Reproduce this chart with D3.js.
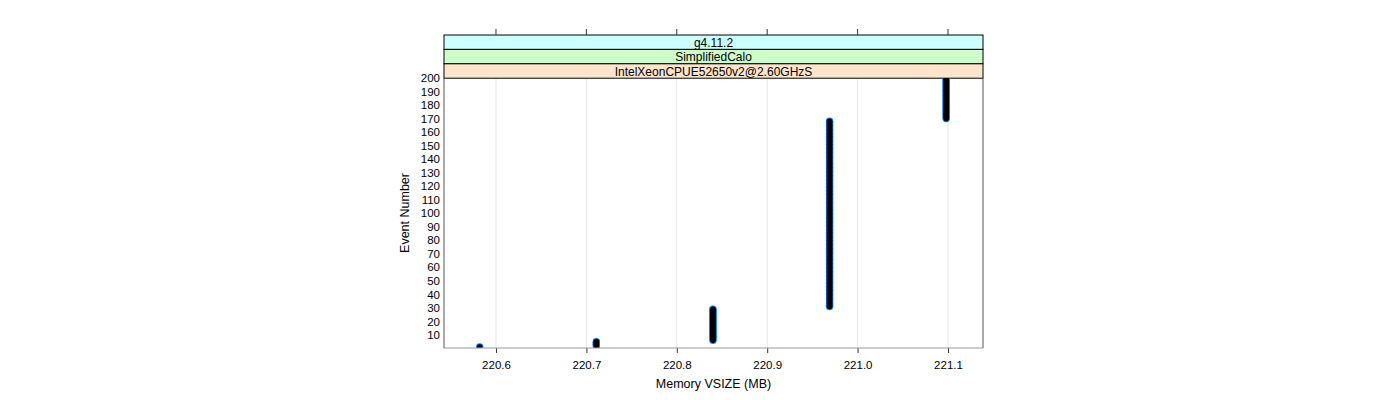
<!DOCTYPE html>
<html>
<head>
<meta charset="utf-8">
<script src="https://cdn.jsdelivr.net/npm/d3@7"></script>
<style>
body { margin: 0; background: #fff; }
text { font-family: "Liberation Sans", Arial, sans-serif; }
</style>
</head>
<body>
<div id="chart"></div>
<script>
// memory plateaus: VSIZE (MB) and the event runs that sit on each
var vsize = [220.582, 220.711, 220.840, 220.969, 221.098];
var runStart = [1, 2, 6, 31, 170];
var runEnd = [1, 5, 29, 168, 200];
var xTicks = [220.6, 220.7, 220.8, 220.9, 221.0, 221.1];
var yTicks = [10, 20, 30, 40, 50, 60, 70, 80, 90, 100, 110, 120, 130, 140, 150, 160, 170, 180, 190, 200];
var strips = ["g4.11.2", "SimplifiedCalo", "IntelXeonCPUE52650v2@2.60GHzS"];
var stripColors = ["#ccffff", "#ccffcc", "#ffe5cc"];

var points = [];
vsize.forEach(function(v, i) {
    for (var e = runStart[i]; e <= runEnd[i]; e++) points.push({x: v, y: e});
});

var width = 1400, height = 400;
var pLeft = 444, pRight = 983, pTop = 78, pBottom = 348;

var svg = d3.select("#chart").append("svg")
    .attr("width", width)
    .attr("height", height);

svg.append("clipPath").attr("id", "panel")
    .append("rect")
    .attr("x", pLeft).attr("y", pTop)
    .attr("width", pRight - pLeft).attr("height", pBottom - pTop);

var x = d3.scaleLinear().domain([220.5425, 221.1387]).range([pLeft, pRight]);
var y = d3.scaleLinear().domain([0.3, 200]).range([pBottom, pTop]);

// grid
svg.selectAll(".grid")
    .data(xTicks)
    .enter().append("line")
    .attr("x1", function(d) { return x(d); })
    .attr("x2", function(d) { return x(d); })
    .attr("y1", pTop)
    .attr("y2", pBottom)
    .attr("stroke", "#e6e6e6");

// strips
var stripH = 14.4;
strips.forEach(function(s, i) {
    var y0 = 35 + i * stripH;
    svg.append("rect")
        .attr("x", pLeft).attr("y", y0)
        .attr("width", pRight - pLeft).attr("height", stripH)
        .attr("fill", stripColors[i])
        .attr("stroke", "#000").attr("stroke-width", 1);
    svg.append("text")
        .attr("x", (pLeft + pRight) / 2)
        .attr("y", y0 + stripH / 2 + 4.5)
        .attr("text-anchor", "middle")
        .attr("font-size", 12)
        .text(s);
});

// top ticks
svg.selectAll(".ttick")
    .data(xTicks)
    .enter().append("line")
    .attr("x1", function(d) { return x(d); })
    .attr("x2", function(d) { return x(d); })
    .attr("y1", 29).attr("y2", 35)
    .attr("stroke", "#333");

// bottom axis
var xAxis = svg.append("g")
    .attr("transform", "translate(0," + pBottom + ")")
    .call(d3.axisBottom(x).tickValues(xTicks).tickFormat(d3.format(".1f")).tickSize(5).tickSizeOuter(0));
xAxis.select(".domain").remove();
xAxis.selectAll("line").attr("stroke", "#333");
xAxis.selectAll("text").attr("font-size", 11.5).attr("dy", "1.15em").attr("font-family", "Liberation Sans, Arial, sans-serif");

// left axis
var yAxis = svg.append("g")
    .attr("transform", "translate(" + pLeft + ",0)")
    .call(d3.axisLeft(y).tickValues(yTicks).tickSize(0).tickPadding(4));
yAxis.select(".domain").remove();
yAxis.selectAll("text").attr("font-size", 11.5).attr("font-family", "Liberation Sans, Arial, sans-serif");

// points
var marks = svg.append("g").attr("clip-path", "url(#panel)");
marks.append("g").selectAll("circle")
    .data(points)
    .enter().append("circle")
    .attr("cx", function(d) { return x(d.x); })
    .attr("cy", function(d) { return y(d.y); })
    .attr("r", 3.7)
    .attr("fill", "#0080ff");

marks.append("g").selectAll("circle")
    .data(points)
    .enter().append("circle")
    .attr("cx", function(d) { return x(d.x); })
    .attr("cy", function(d) { return y(d.y); })
    .attr("r", 2.8)
    .attr("fill", "#000");

// panel frame
svg.append("line").attr("x1", pLeft).attr("x2", pRight).attr("y1", pBottom).attr("y2", pBottom).attr("stroke", "#999");
svg.append("line").attr("x1", pLeft).attr("x2", pLeft).attr("y1", pTop).attr("y2", pBottom).attr("stroke", "#555");
svg.append("line").attr("x1", pRight).attr("x2", pRight).attr("y1", pTop).attr("y2", pBottom).attr("stroke", "#555");

// labels
svg.append("text")
    .attr("x", (pLeft + pRight) / 2)
    .attr("y", 388)
    .attr("text-anchor", "middle")
    .attr("font-size", 12.5)
    .text("Memory VSIZE (MB)");

svg.append("text")
    .attr("transform", "translate(409," + (pTop + pBottom) / 2 + ") rotate(-90)")
    .attr("text-anchor", "middle")
    .attr("font-size", 12.5)
    .text("Event Number");
</script>
</body>
</html>
